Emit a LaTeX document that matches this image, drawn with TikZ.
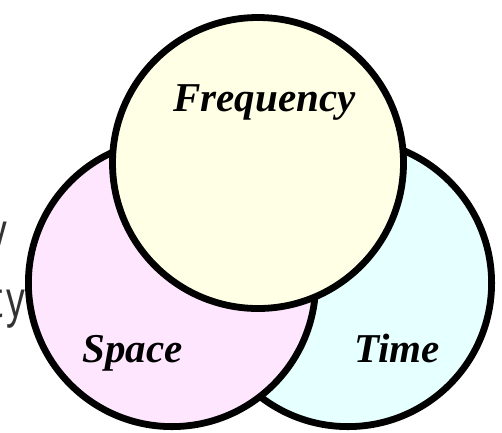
\documentclass[tikz,border=0pt]{standalone}
\usepackage{fontspec}
\setmainfont{Liberation Serif}
\newfontfamily\slidesans{Liberation Sans}
\definecolor{freqfill}{HTML}{FFFFE6}
\definecolor{spacefill}{HTML}{FFE6FF}
\definecolor{timefill}{HTML}{E6FFFF}
\begin{document}
\begin{tikzpicture}[x=1pt,y=-1pt,
  venn/.style={draw=black,line width=6.8pt},
  lbl/.style={font=\fontsize{41}{41}\selectfont\bfseries\itshape,anchor=base,inner sep=0pt},
  frag/.style={font=\fontsize{52}{52}\selectfont\slidesans,text=black!80,anchor=base east,inner sep=0pt}]
\useasboundingbox (0,0) rectangle (502,432);
\begin{scope}
\clip (0,0) rectangle (502,432);
\node[frag] (fragA) at (7,249) {\scalebox{0.72}[1]{y}};
\node[frag] (fragB) at (25,317) {\scalebox{0.72}[1]{t\kern5pt y}};
\draw[venn,fill=timefill] (348,283) circle (143.6);
\draw[venn,fill=spacefill] (172,283) circle (143.6);
\draw[venn,fill=freqfill] (258,163) circle (145.5);
\end{scope}
\node[lbl] (freq) at (264.5,111) {Frequency};
\node[lbl] (space) at (132.5,362) {Space};
\node[lbl] (time) at (397,362) {Time};
\end{tikzpicture}
\end{document}
